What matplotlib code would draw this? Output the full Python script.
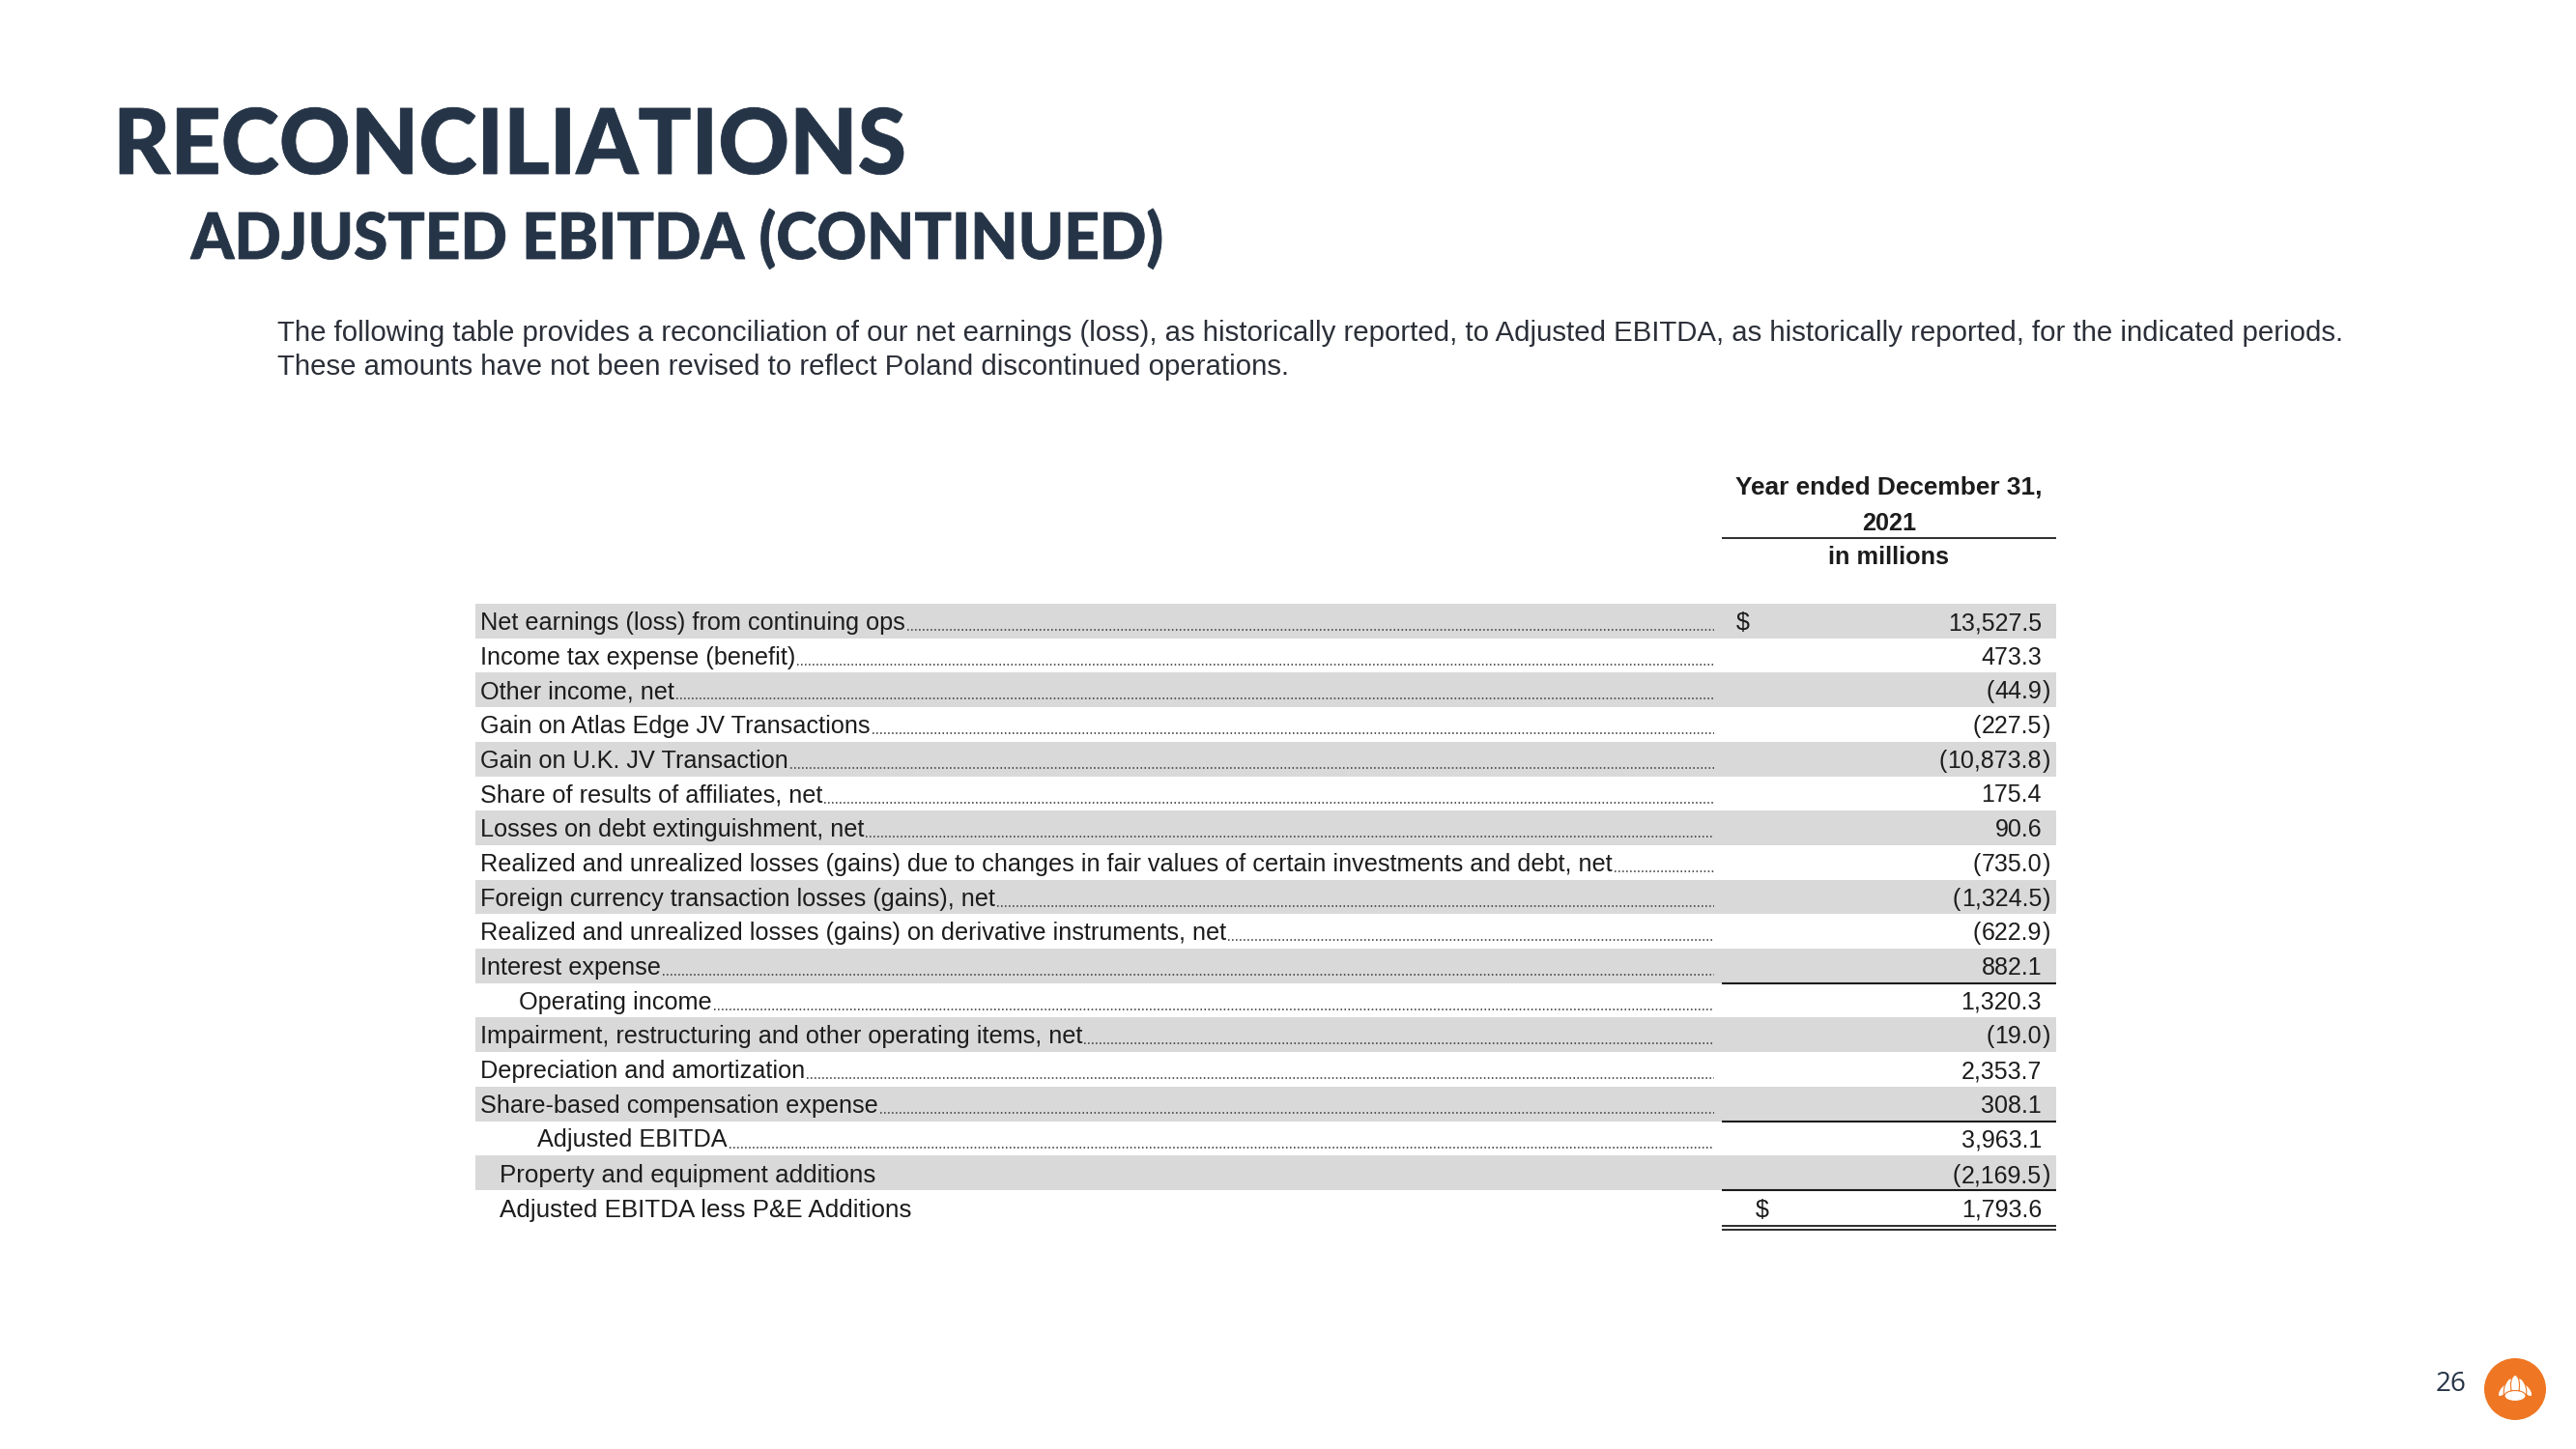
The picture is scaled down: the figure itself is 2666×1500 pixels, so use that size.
import matplotlib
matplotlib.use("Agg")
import matplotlib.pyplot as plt
from matplotlib.textpath import TextPath
from matplotlib.patches import PathPatch, Rectangle, Circle, Ellipse
from matplotlib.font_manager import FontProperties
from matplotlib.transforms import Affine2D

plt.rcParams['lines.scale_dashes'] = False

# ---------------- data ----------------
title = "RECONCILIATIONS"
subtitle = "ADJUSTED EBITDA (CONTINUED)"
intro_lines = [
    "The following table provides a reconciliation of our net earnings (loss), as historically reported, to Adjusted EBITDA, as historically reported, for the indicated periods.",
    "These amounts have not been revised to reflect Poland discontinued operations.",
]
header_lines = ["Year ended December 31,", "2021", "in millions"]
row_labels = [
    "Net earnings (loss) from continuing ops",
    "Income tax expense (benefit)",
    "Other income, net",
    "Gain on Atlas Edge JV Transactions",
    "Gain on U.K. JV Transaction",
    "Share of results of affiliates, net",
    "Losses on debt extinguishment, net",
    "Realized and unrealized losses (gains) due to changes in fair values of certain investments and debt, net",
    "Foreign currency transaction losses (gains), net",
    "Realized and unrealized losses (gains) on derivative instruments, net",
    "Interest expense",
    "Operating income",
    "Impairment, restructuring and other operating items, net",
    "Depreciation and amortization",
    "Share-based compensation expense",
    "Adjusted EBITDA",
    "Property and equipment additions",
    "Adjusted EBITDA less P&E Additions",
]
row_values = [13527.5, 473.3, -44.9, -227.5, -10873.8, 175.4, 90.6, -735.0,
              -1324.5, -622.9, 882.1, 1320.3, -19.0, 2353.7, 308.1, 3963.1,
              -2169.5, 1793.6]
dollar_rows = [0, 17]
page_number = "26"

# ---------------- layout / style ----------------
W, H = 2666, 1500
NAVY = "#253447"
TXT = "#1c1c1c"
BAND = "#d9d9d9"
ORANGE = "#ef7622"

fig = plt.figure(figsize=(W / 100, H / 100), dpi=100)
fig.patch.set_facecolor("white")
ax = fig.add_axes([0, 0, 1, 1])
ax.set_xlim(0, W)
ax.set_ylim(H, 0)
ax.axis("off")
renderer = fig.canvas.get_renderer()


def path_text(s, x, baseline, cap_h, width, family, weight, color):
    fp = FontProperties(family=family, weight=weight)
    tp = TextPath((0, 0), s, size=100, prop=fp)
    bb = tp.get_extents()
    hb = TextPath((0, 0), "H", size=100, prop=fp).get_extents()
    sy = cap_h / hb.ymax
    sx = width / bb.width
    tr = Affine2D().translate(-bb.xmin, 0).scale(sx, -sy).translate(x, baseline)
    ax.add_patch(PathPatch(tp, transform=tr + ax.transData, fc=color, ec=color, lw=0.6))


def text_bbox(t):
    return t.get_window_extent(renderer)


# Titles
path_text(title, 124, 180, 68, 811, "Lato", "black", NAVY)
path_text(subtitle, 197, 268, 48, 1005, "Lato", "black", NAVY)

# Intro paragraph (fit first line to its width)
FAM = ["Liberation Sans", "DejaVu Sans"]
p_size = 20
t0 = ax.text(287, 353, intro_lines[0], fontsize=p_size, family=FAM, color="#2b2f38", va="baseline", ha="left")
bb = text_bbox(t0)
p_size = p_size * (2420 - 287) / (bb.x1 - bb.x0)
t0.set_fontsize(p_size)
ax.text(287, 388, intro_lines[1], fontsize=p_size, family=FAM, color="#2b2f38", va="baseline", ha="left")

# Table header
col_l, col_r = 1782, 2128
col_c = (col_l + col_r) / 2
hdr_y = [505, 542, 577]
hdr_fs = [18.9, 18.2, 18.2]
for s, y, f in zip(header_lines, hdr_y, hdr_fs):
    ax.text(col_c, y, s, fontsize=f, family=FAM, weight="bold", color=TXT, ha="center", va="center")
ax.plot([col_l, col_r], [557, 557], color=TXT, lw=1.3, solid_capstyle="butt")

# Rows
top0 = 625
pitch = 35.7
band_l = 492
lead_end = 1774
val_right = 2113
indent_x = {11: 537, 15: 556, 16: 517, 17: 517}
big_rows = {16, 17}
no_leader = {16, 17}
LAB_FS = 18.2
BIG_FS = 18.7
VAL_FS = 18.0


def fmt(v):
    return f"{abs(v):,.1f}"


for i, (lab, v) in enumerate(zip(row_labels, row_values)):
    top = top0 + i * pitch
    if i % 2 == 0:
        ax.add_patch(Rectangle((band_l, top), col_r - band_l, pitch, fc=BAND, ec="none", zorder=0))
    base = top + (28 if i in big_rows else 27)
    fs = BIG_FS if i in big_rows else LAB_FS
    x = indent_x.get(i, 497)
    t = ax.text(x, base, lab, fontsize=fs, family=FAM, color=TXT, ha="left", va="baseline")
    if i not in no_leader:
        xr = text_bbox(t).x1
        ax.plot([xr + 2, lead_end], [base, base], color="#4a4a4a", lw=1.3,
                linestyle=(0, (1.1, 1.8)), dash_capstyle="butt")
    tn = ax.text(val_right, base, fmt(v), fontsize=VAL_FS, family=FAM, color=TXT, ha="right", va="baseline")
    if v < 0:
        ax.text(val_right + 0.5, base, ")", fontsize=VAL_FS, family=FAM, color=TXT, ha="left", va="baseline")
        bbn = text_bbox(tn)
        ax.text(bbn.x0 - 0.5, base, "(", fontsize=VAL_FS, family=FAM, color=TXT, ha="right", va="baseline")
    if i in dollar_rows:
        ax.text(1797 if i == 0 else 1817, base, "$", fontsize=VAL_FS, family=FAM, color=TXT, ha="left", va="baseline")

# rules
for r in [11, 15, 17]:
    y = top0 + r * pitch
    ax.plot([col_l, col_r], [y, y], color=TXT, lw=1.5, solid_capstyle="butt")
yb = top0 + 18 * pitch
ax.plot([col_l, col_r], [yb + 1, yb + 1], color=TXT, lw=1.3, solid_capstyle="butt")
ax.plot([col_l, col_r], [yb + 5, yb + 5], color=TXT, lw=1.3, solid_capstyle="butt")

# page number and logo
ax.text(2537, 1433, page_number, fontsize=20, family=["Open Sans", "DejaVu Sans"], color=NAVY, ha="center", va="center")
cx, cy, rad = 2603, 1438, 32
ax.add_patch(Circle((cx, cy), rad, fc=ORANGE, ec="none"))
petals = [(-12, 1, 7, 16, 38), (12, 1, 7, 16, -38), (-7, -2, 8, 19, 18),
          (7, -2, 8, 19, -18), (0, -4, 9, 21, 0)]
for dx, dy, pw, ph, ang in petals:
    ax.add_patch(Ellipse((cx + dx, cy + dy), pw, ph, angle=ang, fc="white", ec=ORANGE, lw=0.8))
ax.add_patch(Ellipse((cx, cy + 7), 22, 11, fc="white", ec=ORANGE, lw=0.8))

fig.savefig("out.png", dpi=100, facecolor="white")
